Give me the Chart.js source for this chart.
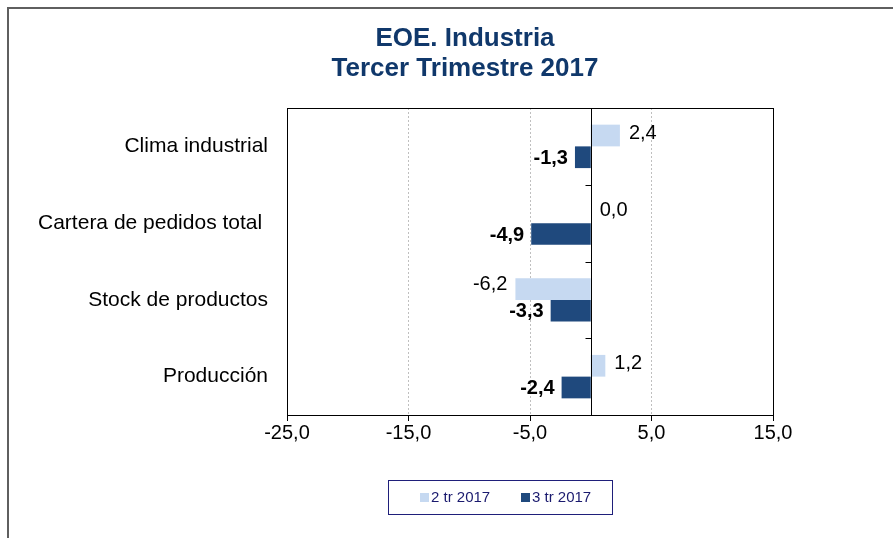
<!DOCTYPE html>
<html><head><meta charset="utf-8">
<script src="https://cdn.jsdelivr.net/npm/chart.js@4.4.1/dist/chart.umd.min.js"></script>
<style>html,body{margin:0;padding:0;background:#fff;}canvas{display:block;}</style>
</head><body>
<canvas id="c" width="893" height="538"></canvas>
<script>
const titleLines = ['EOE. Industria', 'Tercer Trimestre 2017'];
const categories = ['Clima industrial', 'Cartera de pedidos total ', 'Stock de productos', 'Producción'];
const seriesNames = ['2 tr 2017', '3 tr 2017'];
const q2Values = [2.4, 0.0, -6.2, 1.2];
const q3Values = [-1.3, -4.9, -3.3, -2.4];
const xTicks = [-25, -15, -5, 5, 15];

const FONT = '"Liberation Sans", Arial, Helvetica, sans-serif';
const COLORS = ['#C6D9F1', '#1F497D'];
const fmt = v => v.toFixed(1).replace('.', ',');

Chart.defaults.font.family = FONT;
Chart.defaults.color = '#000';

const decor = {
  id: 'decor',
  beforeDraw(chart) {
    const ctx = chart.ctx;
    ctx.save();
    ctx.fillStyle = '#fff';
    ctx.fillRect(0, 0, chart.width, chart.height);
    ctx.strokeStyle = '#5f5f5f';
    ctx.lineWidth = 2;
    ctx.beginPath();
    ctx.moveTo(8, chart.height);
    ctx.lineTo(8, 8);
    ctx.lineTo(chart.width, 8);
    ctx.stroke();
    ctx.restore();
  },
  afterDraw(chart) {
    const ctx = chart.ctx;
    const a = chart.chartArea;
    const xs = chart.scales.x, ys = chart.scales.y;
    ctx.save();
    ctx.strokeStyle = '#000';
    ctx.lineWidth = 1;
    ctx.strokeRect(Math.round(a.left) + 0.5, Math.round(a.top) + 0.5,
      Math.round(a.right - a.left), Math.round(a.bottom - a.top));
    const x0 = Math.round(xs.getPixelForValue(0)) + 0.5;
    ctx.beginPath();
    ctx.moveTo(x0, a.top); ctx.lineTo(x0, a.bottom);
    for (let i = 0; i < categories.length - 1; i++) {
      const y = Math.round(ys.getPixelForValue(i + 0.5)) + 0.5;
      ctx.moveTo(x0 - 6, y); ctx.lineTo(x0, y);
    }
    ctx.stroke();

    ctx.fillStyle = '#10386B';
    ctx.font = 'bold 26px ' + FONT;
    ctx.textAlign = 'center';
    ctx.textBaseline = 'middle';
    titleLines.forEach((t, i) => ctx.fillText(t, 465, 39 + i * 30));

    ctx.strokeStyle = '#1F1F7A';
    ctx.lineWidth = 1;
    ctx.strokeRect(388.5, 480.5, 224, 34);
    ctx.font = '15px ' + FONT;
    ctx.textAlign = 'left';
    ctx.textBaseline = 'middle';
    chart.data.datasets.forEach((ds, i) => {
      const lx = 420 + i * 101;
      ctx.fillStyle = ds.backgroundColor;
      ctx.fillRect(lx, 493, 9, 9);
      ctx.fillStyle = '#1A1A6E';
      ctx.fillText(ds.label, lx + 11, 498);
    });
    ctx.restore();
  },
  afterDatasetsDraw(chart) {
    const ctx = chart.ctx;
    ctx.save();
    ctx.textBaseline = 'middle';
    ctx.fillStyle = '#000';
    chart.data.datasets.forEach((ds, di) => {
      const meta = chart.getDatasetMeta(di);
      meta.data.forEach((el, i) => {
        const v = ds.data[i];
        if (di === 0) {
          ctx.font = '20px ' + FONT;
          if (v >= 0) { ctx.textAlign = 'left'; ctx.fillText(fmt(v), el.x + 9, el.y - 2); }
          else { ctx.textAlign = 'right'; ctx.fillText(fmt(v), el.x - 8, el.y - 5); }
        } else {
          ctx.font = 'bold 20px ' + FONT;
          if (v < 0) { ctx.textAlign = 'right'; ctx.fillText(fmt(v), el.x - 7, el.y + 1); }
          else { ctx.textAlign = 'left'; ctx.fillText(fmt(v), el.x + 7, el.y + 1); }
        }
      });
    });
    ctx.restore();
  }
};

new Chart(document.getElementById('c'), {
  type: 'bar',
  data: {
    labels: categories,
    datasets: [
      { label: seriesNames[0], data: q2Values, backgroundColor: COLORS[0] },
      { label: seriesNames[1], data: q3Values, backgroundColor: COLORS[1] }
    ]
  },
  options: {
    indexAxis: 'y',
    responsive: false,
    animation: false,
    devicePixelRatio: 1,
    layout: { padding: { left: 0, top: 108, right: 120, bottom: 83 } },
    datasets: { bar: { categoryPercentage: 0.566, barPercentage: 1.0 } },
    plugins: { legend: { display: false }, title: { display: false }, tooltip: { enabled: false } },
    scales: {
      x: {
        type: 'linear', min: -25, max: 15,
        afterBuildTicks: s => { s.ticks = xTicks.map(v => ({ value: v })); },
        afterFit: s => { s.height = 40; },
        ticks: { font: { size: 20 }, color: '#000', padding: 0, callback: v => fmt(v) },
        grid: { color: '#BFBFBF', lineWidth: 1, tickLength: 6, tickColor: '#000', tickBorderDash: [], tickWidth: 1 },
        border: { display: true, color: '#000', dash: [2, 2] }
      },
      y: {
        type: 'category',
        afterFit: s => { s.width = 287; },
        ticks: { font: { size: 21 }, color: '#000', padding: 19 },
        grid: { display: false, drawTicks: false },
        border: { display: false }
      }
    }
  },
  plugins: [decor]
});
</script>
</body></html>
